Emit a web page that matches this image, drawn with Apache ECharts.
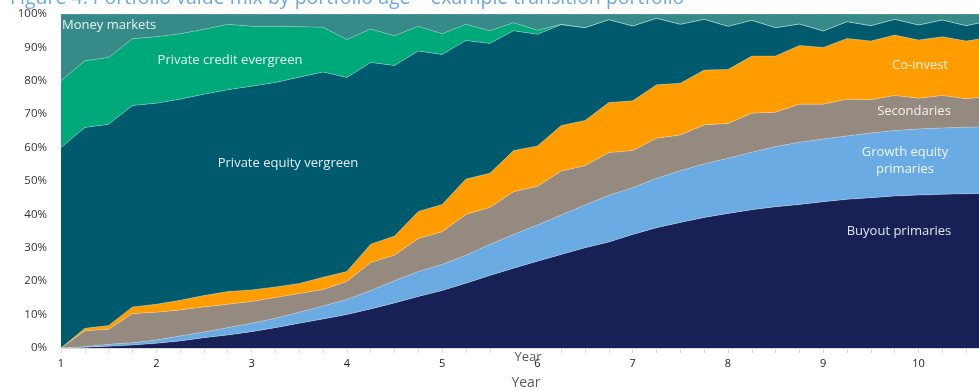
<!DOCTYPE html>
<html>
<head>
<meta charset="utf-8">
<script src="https://cdn.jsdelivr.net/npm/echarts@6/dist/echarts.min.js"></script>
<style>
  html, body { margin: 0; padding: 0; background: #ffffff; overflow: hidden; }
  #chart { width: 979px; height: 390px; }
</style>
</head>
<body>
<div id="chart"></div>
<script>
// Portfolio age in years, one point per quarter
const years = ['1', '1.25', '1.5', '1.75', '2', '2.25', '2.5', '2.75', '3', '3.25', '3.5', '3.75',
  '4', '4.25', '4.5', '4.75', '5', '5.25', '5.5', '5.75', '6', '6.25', '6.5', '6.75',
  '7', '7.25', '7.5', '7.75', '8', '8.25', '8.5', '8.75', '9', '9.25', '9.5', '9.75',
  '10', '10.25', '10.5', '10.75'];

// Share of portfolio value (%) by bucket
const buyoutPrimaries = [0, 0.2, 0.5, 0.9, 1.4, 2.1, 3.1, 3.9, 4.9, 6.1, 7.4, 8.7, 10.0, 11.7, 13.5, 15.4,
  17.2, 19.4, 21.7, 23.9, 26.0, 28.0, 30.0, 31.7, 34.0, 36.0, 37.6, 39.1, 40.3, 41.4, 42.3, 43.0,
  43.8, 44.5, 45.0, 45.5, 45.8, 46.0, 46.2, 46.3];
const growthEquityPrimaries = [0, 0.2, 0.6, 0.7, 1.0, 1.5, 1.7, 2.2, 2.5, 2.8, 3.3, 3.9, 4.5, 5.5, 6.6, 7.5,
  7.8, 8.4, 9.3, 10.1, 10.8, 11.8, 12.8, 14.0, 14.0, 14.8, 15.5, 16.0, 16.5, 17.2, 18.0, 18.6,
  18.8, 19.0, 19.4, 19.6, 19.8, 19.9, 19.9, 19.9];
const secondaries = [0, 4.8, 4.5, 8.7, 8.3, 7.8, 7.5, 7.0, 6.5, 6.2, 5.6, 4.9, 5.4, 8.4, 7.7, 9.9,
  9.8, 12.2, 11.1, 12.8, 11.6, 13.2, 11.8, 12.8, 11.1, 12.0, 10.7, 11.7, 10.4, 11.7, 10.3, 11.4,
  10.4, 11.0, 9.9, 10.5, 9.2, 9.7, 8.5, 9.1];
const coInvest = [0, 0.7, 1.1, 2.0, 2.4, 2.9, 3.4, 3.8, 3.5, 3.2, 3.0, 3.7, 3.0, 5.5, 5.7, 8.1,
  8.2, 10.6, 10.2, 12.3, 12.1, 13.6, 13.5, 15.0, 14.9, 16.0, 15.5, 16.4, 16.2, 17.1, 16.8, 17.6,
  17.0, 18.2, 17.6, 18.1, 17.4, 17.6, 17.3, 17.7];
const privateEquityEvergreen = [60, 60.1, 60.3, 60.3, 60.2, 60.2, 60.3, 60.4, 61.0, 61.2, 61.8, 61.4, 58.1, 54.4, 51.1, 48.0,
  44.9, 41.5, 38.9, 35.9, 33.4, 30.2, 27.8, 24.8, 22.4, 19.9, 17.6, 15.2, 12.9, 10.7, 8.5, 6.4,
  4.9, 5.0, 4.6, 4.7, 4.5, 5.0, 4.6, 5.0];
const privateCreditEvergreen = [20, 20, 20, 20, 19.9, 19.6, 19.4, 19.6, 17.9, 16.8, 15.1, 13.4, 11.4, 10.0, 8.9, 7.4,
  6.2, 4.8, 3.8, 2.4, 1.2, 0.1, 0, 0, 0, 0, 0, 0, 0, 0, 0, 0,
  0, 0, 0, 0, 0, 0, 0, 0];
const moneyMarkets = [20, 14, 13, 7.4, 6.8, 5.9, 4.6, 3.1, 3.7, 3.7, 3.8, 4.0, 7.6, 4.5, 6.5, 3.7,
  5.9, 3.1, 5.0, 2.6, 4.9, 3.1, 4.1, 1.7, 3.6, 1.3, 3.1, 1.6, 3.7, 1.9, 4.1, 3.0,
  5.1, 2.3, 3.5, 1.6, 3.3, 1.8, 3.5, 2.0];

const seriesDefs = [
  { name: 'Buyout primaries', values: buyoutPrimaries, color: '#182156' },
  { name: 'Growth equity primaries', values: growthEquityPrimaries, color: '#6aabe3' },
  { name: 'Secondaries', values: secondaries, color: '#958a80' },
  { name: 'Co-invest', values: coInvest, color: '#ff9d00' },
  { name: 'Private equity evergreen', values: privateEquityEvergreen, color: '#005a6d' },
  { name: 'Private credit evergreen', values: privateCreditEvergreen, color: '#00a97a' },
  { name: 'Money markets', values: moneyMarkets, color: '#368a88' }
];

const FONT = '"Open Sans", "Noto Sans", sans-serif';
const labelColor = 'rgba(255,255,255,0.88)';

const chart = echarts.init(document.getElementById('chart'), null, { renderer: 'canvas' });

const series = seriesDefs.map(d => ({
  name: d.name,
  type: 'line',
  stack: 'mix',
  symbol: 'none',
  data: d.values,
  lineStyle: { width: 0.8, color: 'rgba(255,255,255,0.3)' },
  areaStyle: { color: d.color, opacity: 1 },
  itemStyle: { color: d.color },
  emphasis: { disabled: true },
  animation: false
}));

function areaLabel(text, x, y, align) {
  return {
    type: 'text',
    x: x, y: y,
    style: {
      text: text,
      fill: labelColor,
      font: '13px ' + FONT,
      align: align || 'center',
      verticalAlign: 'middle',
      lineHeight: 17
    },
    z: 100
  };
}

chart.setOption({
  animation: false,
  // the last quarter runs past the right edge of the canvas
  grid: {
    left: 61, width: 929, top: 14, bottom: 42,
    containLabel: false,
    outerBoundsMode: 'none'
  },
  xAxis: {
    type: 'category',
    data: years,
    boundaryGap: false,
    axisLine: { show: true, lineStyle: { color: '#d9d9d9', width: 1 } },
    axisTick: { show: true, length: 5, interval: 0, lineStyle: { color: '#d9d9d9' } },
    splitLine: { show: false },
    axisLabel: {
      margin: 10,
      color: '#1a1a1a',
      fontSize: 11,
      fontFamily: FONT,
      interval: (idx, v) => Number(v) % 1 === 0
    }
  },
  yAxis: {
    type: 'value',
    min: 0,
    max: 100,
    interval: 10,
    axisLine: { show: false },
    axisTick: { show: false },
    splitLine: { show: false },
    axisLabel: {
      margin: 14,
      color: '#333333',
      fontSize: 11.5,
      fontFamily: FONT,
      formatter: '{value}%'
    }
  },
  series: series,
  graphic: [
    {
      type: 'text',
      x: 10, y: 8,
      style: {
        text: 'Figure 4: Portfolio value mix by portfolio age – example transition portfolio',
        fill: '#6aa9e0',
        font: '19.5px ' + FONT,
        align: 'left',
        verticalAlign: 'bottom'
      }
    },
    areaLabel('Money markets', 62, 25, 'left'),
    areaLabel('Private credit evergreen', 230, 60),
    areaLabel('Private equity vergreen', 288, 163),
    areaLabel('Co-invest', 920, 65),
    areaLabel('Secondaries', 914, 111),
    areaLabel('Growth equity\nprimaries', 905, 161),
    areaLabel('Buyout primaries', 899, 231),
    {
      type: 'text',
      x: 528, y: 357,
      style: {
        text: 'Year',
        fill: '#595959',
        font: '13px ' + FONT,
        align: 'center',
        verticalAlign: 'middle'
      },
      z: 1
    },
    {
      type: 'rect',
      shape: { x: 505, y: 349, width: 45, height: 3 },
      style: { fill: '#ffffff' },
      z: 2
    },
    {
      type: 'text',
      x: 526, y: 383,
      style: {
        text: 'Year',
        fill: '#595959',
        font: '14px ' + FONT,
        align: 'center',
        verticalAlign: 'middle'
      }
    }
  ]
});
</script>
</body>
</html>
